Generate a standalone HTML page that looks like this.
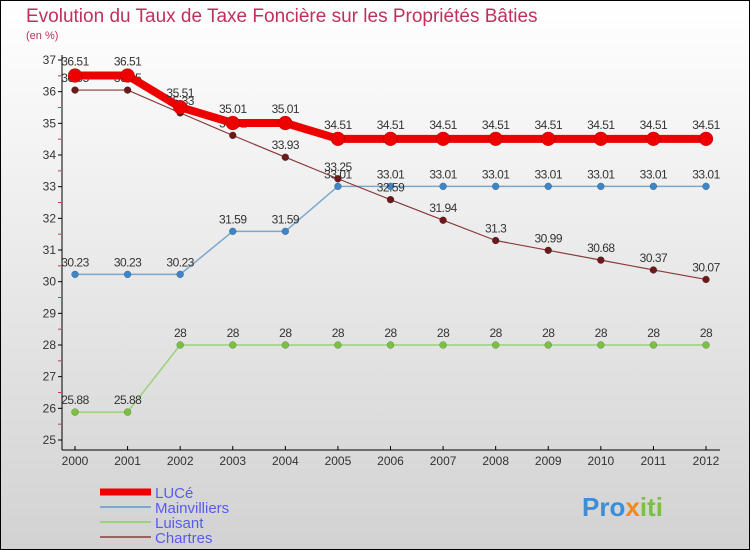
<!DOCTYPE html>
<html><head><meta charset="utf-8"><style>
html,body{margin:0;padding:0}
body{width:750px;height:550px;overflow:hidden;font-family:"Liberation Sans",sans-serif}
svg{display:block}
</style></head><body>
<svg id="chart" width="750" height="550" xmlns="http://www.w3.org/2000/svg">
<defs><linearGradient id="bg" x1="0" y1="0" x2="0" y2="1"><stop offset="0" stop-color="#ffffff"/><stop offset="1" stop-color="#d2d2d2"/></linearGradient></defs>
<rect x="0.5" y="0.5" width="749" height="549" fill="url(#bg)" stroke="#000"/>
<text x="26" y="22" font-size="19" fill="#c0305a">Evolution du Taux de Taxe Foncière sur les Propriétés Bâties</text>
<text x="26" y="39" font-size="11" fill="#c0305a">(en %)</text>
<g id="axes"></g>
<g id="series"></g>
<g id="legend"></g>
<text x="582" y="516" font-size="26" font-weight="bold" fill="#3a8fd8">Pro<tspan fill="#f08a1c">x</tspan><tspan fill="#7ac142">iti</tspan></text>
</svg>
<script>
const years=[2000,2001,2002,2003,2004,2005,2006,2007,2008,2009,2010,2011,2012];
const luce=[36.51,36.51,35.51,35.01,35.01,34.51,34.51,34.51,34.51,34.51,34.51,34.51,34.51];
const mainvilliers=[30.23,30.23,30.23,31.59,31.59,33.01,33.01,33.01,33.01,33.01,33.01,33.01,33.01];
const luisant=[25.88,25.88,28,28,28,28,28,28,28,28,28,28,28];
const chartres=[36.05,36.05,35.33,34.62,33.93,33.25,32.59,31.94,31.3,30.99,30.68,30.37,30.07];
const yTicks=[25,26,27,28,29,30,31,32,33,34,35,36,37];
const NS="http://www.w3.org/2000/svg";
const x=i=>75+i*(706-75)/(years.length-1);
const y=v=>440-(v-25)*(380/12);
function mk(tag,attrs,parent){const e=document.createElementNS(NS,tag);for(const k in attrs)e.setAttribute(k,attrs[k]);parent.appendChild(e);return e;}
const axes=document.getElementById('axes');
let ya=mk('line',{x1:62,y1:55,x2:62,y2:450,stroke:'#000','stroke-width':1},axes);


let xa=mk('line',{x1:62,y1:450,x2:720,y2:450,stroke:'#000','stroke-width':1},axes);


yTicks.forEach(t=>{
 mk('line',{x1:58,y1:y(t),x2:62,y2:y(t),stroke:'#000'},axes);
 if(t<37) mk('line',{x1:58,y1:y(t+0.5),x2:61,y2:y(t+0.5),stroke:'#e03050'},axes);
 const tx=mk('text',{x:56,y:y(t)+4,'font-size':12,fill:'#333','text-anchor':'end'},axes);
 tx.textContent=t;
 
 
});
years.forEach((yr,i)=>{
 mk('line',{x1:x(i),y1:446,x2:x(i),y2:450,stroke:'#000'},axes);
 const tx=mk('text',{x:x(i),y:465,'font-size':12,fill:'#333','text-anchor':'middle'},axes);
 tx.textContent=yr;
 
 
});
const ser=document.getElementById('series');
function draw(data,color,dot,lw,r,name,labelDy){
 const g=mk('g',{},ser);
 
 
 const pts=data.map((v,i)=>x(i)+','+y(v)).join(' ');
 const pl=mk('polyline',{points:pts,fill:'none',stroke:color,'stroke-width':lw,'stroke-linejoin':'round'},g);
 
 
 data.forEach((v,i)=>{
  const c=mk('circle',{cx:x(i),cy:y(v),r:r,fill:dot,stroke:'rgba(0,0,0,0.3)','stroke-width':0.5},g);
  
  
  const t=mk('text',{x:x(i),y:y(v)+labelDy,'font-size':12,fill:'#333','text-anchor':'middle','letter-spacing':'-0.5'},g);
  t.textContent=v;
  
  
 });
}
draw(luisant,'#9ad27a','#7ac142',1.5,3.5,'luisant',-8);
draw(mainvilliers,'#7aa8d0','#3d85c6',1.5,3.5,'mainvilliers',-8);
draw(chartres,'#8b3a3a','#6b1a1a',1.2,3.5,'chartres',-8);
draw(luce,'#ee0000','#ee0000',8,7,'luce',-10);
const lg=document.getElementById('legend');
const items=[['LUCé','#ee0000',7],['Mainvilliers','#7aa8d0',2],['Luisant','#9ad27a',2],['Chartres','#a06060',2]];
items.forEach((it,i)=>{
 const yy=492+i*15;
 const l=mk('line',{x1:100,y1:yy,x2:151,y2:yy,stroke:it[1],'stroke-width':it[2]},lg);
 
 
 const t=mk('text',{x:155,y:yy+6,'font-size':15,fill:'#5a5aee'},lg);
 t.textContent=it[0];
 
 
});
</script>
</body></html>
